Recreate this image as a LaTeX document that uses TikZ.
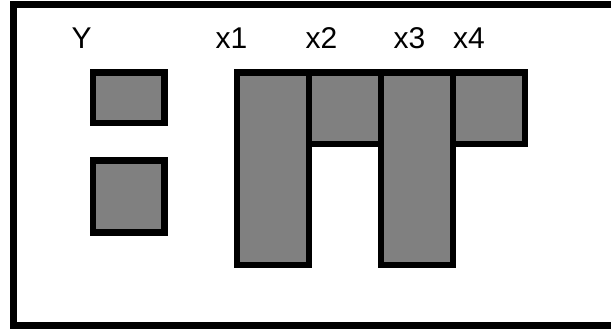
\documentclass[tikz,border=0pt]{standalone}
\usepackage{fontspec}
\setmainfont{Liberation Sans}
\definecolor{boxgray}{RGB}{128,128,128}
\begin{document}
\begin{tikzpicture}[x=1pt,y=-1pt,
  cell/.style={draw=black,fill=boxgray,line width=6.3pt,inner sep=0pt,outer sep=0pt,rectangle,miter limit=10},
  lab/.style={anchor=base west,inner sep=0pt,font=\fontsize{30}{36}\selectfont}]
\useasboundingbox (0,0) rectangle (611,331);
\clip (0,0) rectangle (611,331);
\fill[white] (0,0) rectangle (611,331);
\draw[line width=7pt] (13.5,4.5) rectangle (640,325.7);
\node[cell,minimum width=71.5pt,minimum height=50.5pt] (y1) at (128.75,97.75) {};
\node[cell,minimum width=71.5pt,minimum height=72pt] (y2) at (128.75,196.5) {};
\node[cell,minimum width=71.7pt,minimum height=192.2pt] (c1) at (272.85,168.6) {};
\node[cell,minimum width=72.1pt,minimum height=71.5pt] (c2) at (344.75,108.25) {};
\node[cell,minimum width=72pt,minimum height=192.2pt] (c3) at (416.8,168.6) {};
\node[cell,minimum width=71.9pt,minimum height=71.5pt] (c4) at (488.75,108.25) {};
\node[lab] (ly) at (71.5,48.3) {Y};
\node[lab] (l1) at (215.5,48.3) {x1};
\node[lab] (l2) at (305.5,48.3) {x2};
\node[lab] (l3) at (393.5,48.3) {x3};
\node[lab] (l4) at (452.8,48.3) {x4};
\end{tikzpicture}
\end{document}
